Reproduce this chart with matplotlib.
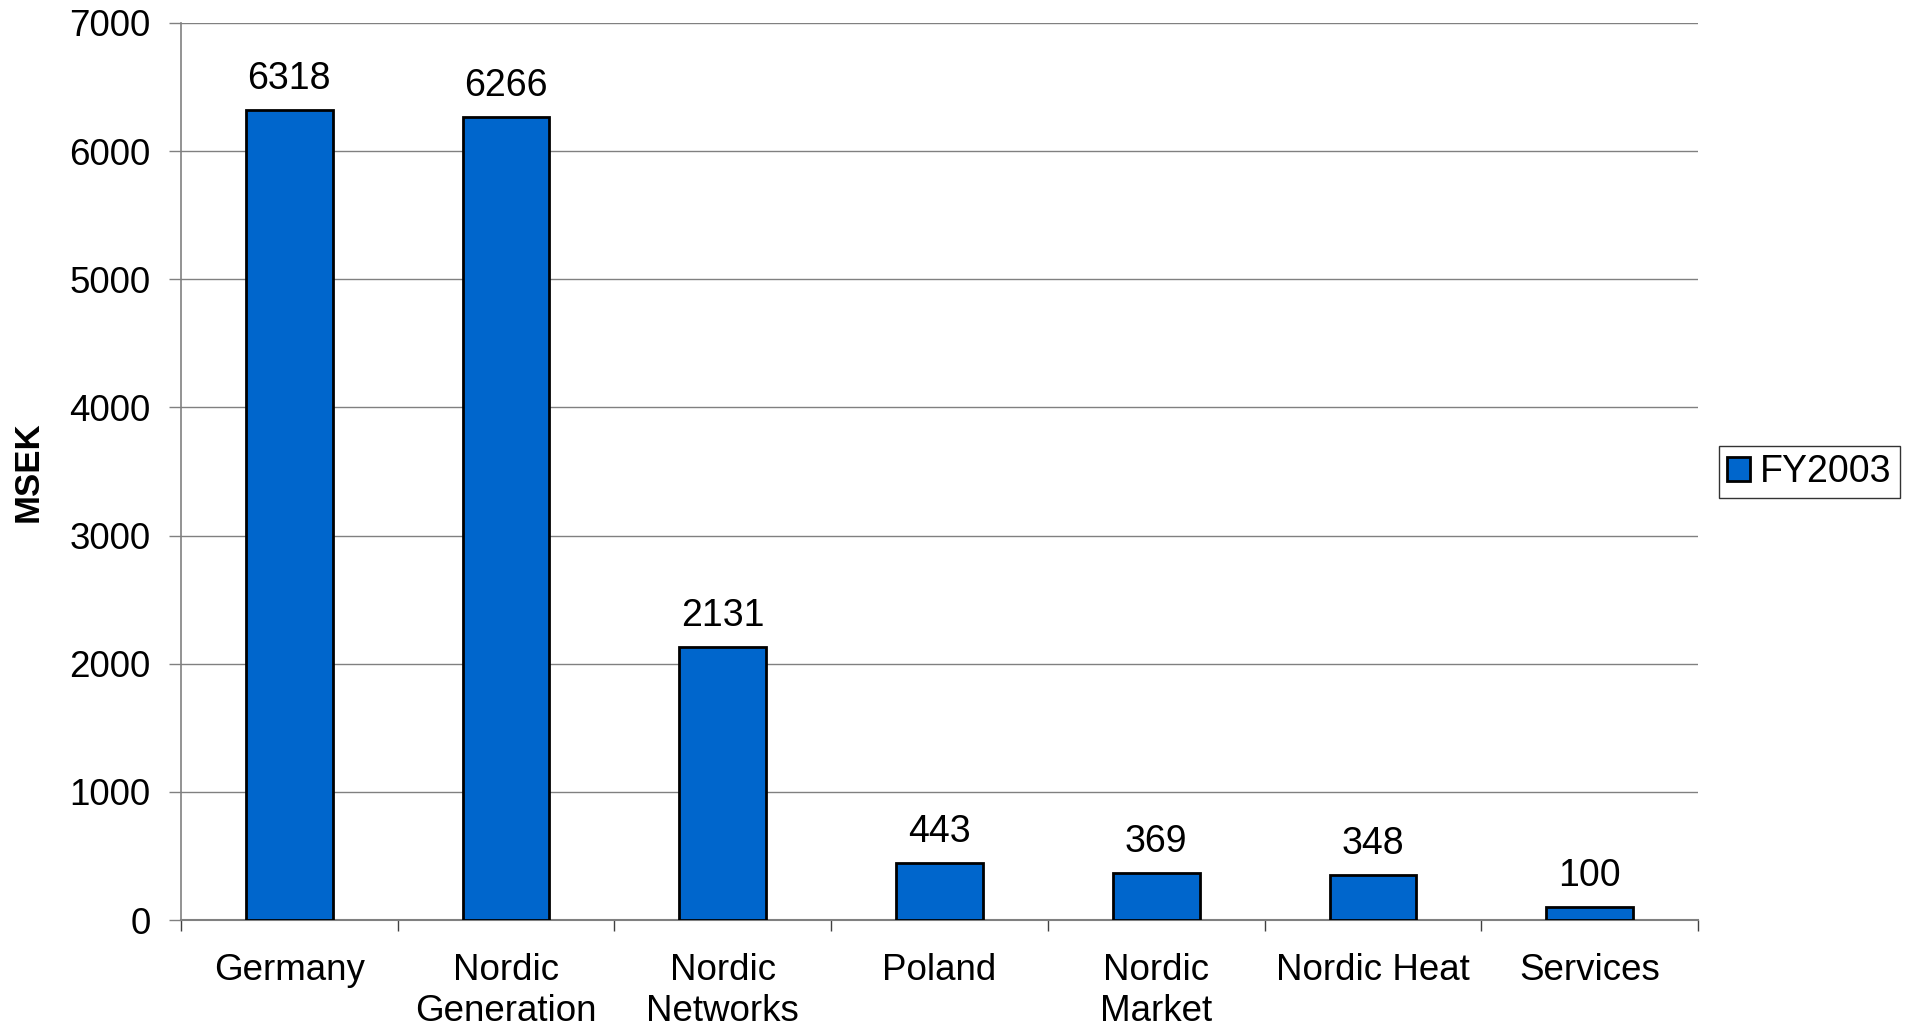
import numpy as np
import matplotlib.pyplot as plt

categories = ["Germany", "Nordic\nGeneration", "Nordic\nNetworks", "Poland",
              "Nordic\nMarket", "Nordic Heat", "Services"]
values = [6318, 6266, 2131, 443, 369, 348, 100]
series_name = "FY2003"
yticks = [0, 1000, 2000, 3000, 4000, 5000, 6000, 7000]

plt.rcParams['font.family'] = ['Liberation Sans', 'DejaVu Sans']

fig = plt.figure(figsize=(19.15, 10.27), dpi=100)
ax = fig.add_axes([181 / 1915, 1 - 920 / 1027, 1517 / 1915, 897 / 1027])

x = np.arange(len(categories))
bars = ax.bar(x, values, width=0.4, color='#0066CC', edgecolor='black',
              linewidth=2, label=series_name, zorder=3)

for b, v in zip(bars, values):
    ax.annotate(str(v), (b.get_x() + b.get_width() / 2, v),
                xytext=(0, 9.5), textcoords='offset points',
                ha='center', va='bottom', fontsize=27)

ax.set_xlim(-0.5, len(categories) - 0.5)
ax.set_ylim(0, 7000)
ax.set_yticks(yticks)
ax.set_yticklabels([str(t) for t in yticks], fontsize=26.5)
ax.tick_params(axis='y', direction='out', length=9, width=1, color='#808080', pad=13)

# category labels sit between boundary ticks
ax.set_xticks(x)
ax.set_xticklabels(categories, fontsize=26.5, linespacing=1.22)
ax.tick_params(axis='x', length=0, pad=24)
ax.set_xticks(np.arange(len(categories) + 1) - 0.5, minor=True)
ax.tick_params(axis='x', which='minor', direction='out', length=8, width=1, color='#404040')

ax.yaxis.grid(True, color='#808080', linewidth=1, zorder=0)
for side in ['top', 'right']:
    ax.spines[side].set_visible(False)
ax.spines['left'].set_color('#808080')
ax.spines['bottom'].set_color('#808080')
ax.spines['left'].set_linewidth(1.2)
ax.spines['bottom'].set_linewidth(1.5)

ax.set_ylabel("MSEK", fontsize=25, fontweight='bold', labelpad=18)

leg = ax.legend(loc='center left', bbox_to_anchor=(1719 / 1915, 1 - 472 / 1027),
                bbox_transform=fig.transFigure, fontsize=27, frameon=True,
                fancybox=False, edgecolor='black', handlelength=0.62,
                handleheight=0.62, handletextpad=0.25, borderpad=0.22,
                borderaxespad=0)
leg.get_frame().set_linewidth(1)

fig.savefig("out.png", dpi=100)
